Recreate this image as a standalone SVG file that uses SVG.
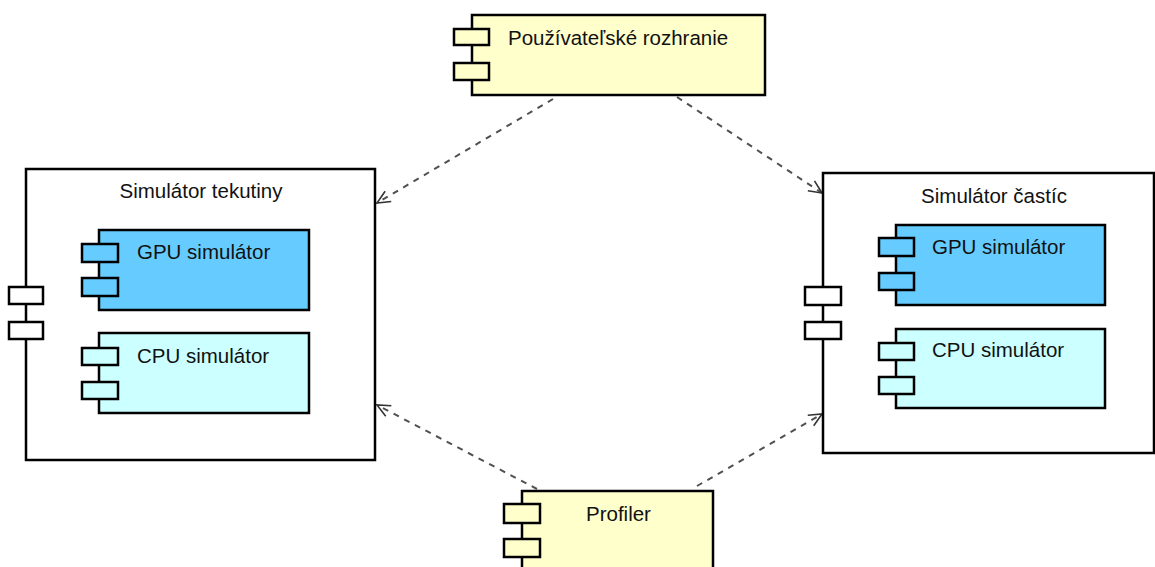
<svg xmlns="http://www.w3.org/2000/svg" width="1155" height="567" viewBox="0 0 1155 567">
  <style>
    .box { stroke: #000; stroke-width: 2.5; }
    .port { stroke: #000; stroke-width: 2.5; }
    .ui { fill: #FFFFCC; }
    .gpu { fill: #66CCFF; }
    .cpu { fill: #CCFFFF; }
    .pkg { fill: #FFFFFF; }
    .label { font-family: "Liberation Sans", Arial, sans-serif; font-size: 20.5px; fill: #111; }
    .dep { fill: none; stroke: #505050; stroke-width: 2; stroke-dasharray: 6 6; marker-end: url(#open); }
  </style>
  <defs>
    <marker id="open" markerUnits="userSpaceOnUse" markerWidth="20" markerHeight="20" viewBox="-14 -10 16 20" refX="0" refY="0" orient="auto">
      <path d="M-13,-6 L0,0 L-13,6" fill="none" stroke="#333" stroke-width="1.6"/>
    </marker>
  </defs>

  <rect width="1155" height="567" fill="#FFFFFF"/>

  <!-- dependency arrows -->
  <g id="connectors">
    <line class="dep" x1="553" y1="99" x2="377" y2="203"/>
    <line class="dep" x1="677" y1="97" x2="822" y2="193"/>
    <line class="dep" x1="537" y1="489" x2="377" y2="405"/>
    <line class="dep" x1="697" y1="486" x2="822" y2="414"/>
  </g>

  <!-- user interface component -->
  <g id="ui">
    <rect class="box ui" x="472" y="15" width="293" height="80"/>
    <rect class="port ui" x="454" y="29" width="35" height="16"/>
    <rect class="port ui" x="454" y="63" width="35" height="17"/>
    <text class="label" x="508" y="45">Používateľské rozhranie</text>
  </g>

  <!-- fluid simulator -->
  <g id="fluid-sim">
    <rect class="box pkg" x="26" y="169" width="349" height="291"/>
    <rect class="port pkg" x="9" y="287" width="34" height="17"/>
    <rect class="port pkg" x="9" y="322" width="34" height="17"/>
    <text class="label" x="201" y="198" text-anchor="middle">Simulátor tekutiny</text>
  </g>
  <g id="fluid-gpu">
    <rect class="box gpu" x="99" y="230" width="210" height="80"/>
    <rect class="port gpu" x="82" y="244" width="36" height="18"/>
    <rect class="port gpu" x="82" y="278" width="36" height="18"/>
    <text class="label" x="137" y="259">GPU simulátor</text>
  </g>
  <g id="fluid-cpu">
    <rect class="box cpu" x="99" y="333" width="210" height="80"/>
    <rect class="port cpu" x="82" y="348" width="36" height="17"/>
    <rect class="port cpu" x="82" y="382" width="36" height="17"/>
    <text class="label" x="137" y="363">CPU simulátor</text>
  </g>

  <!-- particle simulator -->
  <g id="particle-sim">
    <rect class="box pkg" x="823" y="173" width="331" height="280"/>
    <rect class="port pkg" x="805" y="287" width="36" height="18"/>
    <rect class="port pkg" x="805" y="322" width="36" height="17"/>
    <text class="label" x="994" y="203" text-anchor="middle">Simulátor častíc</text>
  </g>
  <g id="particle-gpu">
    <rect class="box gpu" x="896" y="225" width="209" height="80"/>
    <rect class="port gpu" x="879" y="238" width="35" height="18"/>
    <rect class="port gpu" x="879" y="273" width="35" height="17"/>
    <text class="label" x="932" y="254">GPU simulátor</text>
  </g>
  <g id="particle-cpu">
    <rect class="box cpu" x="896" y="329" width="209" height="79"/>
    <rect class="port cpu" x="879" y="343" width="35" height="17"/>
    <rect class="port cpu" x="879" y="377" width="35" height="17"/>
    <text class="label" x="932" y="357">CPU simulátor</text>
  </g>

  <!-- profiler component -->
  <g id="profiler">
    <rect class="box ui" x="522" y="491" width="191" height="90"/>
    <rect class="port ui" x="504" y="504" width="36" height="19"/>
    <rect class="port ui" x="504" y="539" width="36" height="18"/>
    <text class="label" x="586" y="521">Profiler</text>
  </g>
</svg>
